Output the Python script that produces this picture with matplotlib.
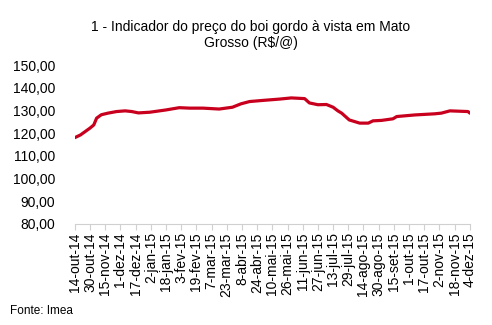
import pandas as pd
import matplotlib
matplotlib.use('Agg')
import matplotlib.pyplot as plt

plt.rcParams['font.family'] = ['Liberation Sans', 'DejaVu Sans']

# preco do boi gordo (R$/@)
datas = ['2014-10-14', '2014-10-20', '2014-10-25', '2014-10-30', '2014-11-03',
         '2014-11-06', '2014-11-11', '2014-11-18', '2014-11-27', '2014-12-06',
         '2014-12-13', '2014-12-20', '2015-01-01', '2015-01-18', '2015-02-01',
         '2015-02-12', '2015-02-26', '2015-03-15', '2015-03-29', '2015-04-07',
         '2015-04-16', '2015-04-30', '2015-05-18', '2015-05-30', '2015-06-13',
         '2015-06-18', '2015-06-27', '2015-07-06', '2015-07-13', '2015-07-18',
         '2015-07-22', '2015-07-30', '2015-08-10', '2015-08-19', '2015-08-24',
         '2015-09-02', '2015-09-14', '2015-09-18', '2015-10-07', '2015-10-28',
         '2015-11-04', '2015-11-13', '2015-12-02', '2015-12-04']
precos = [118.0, 119.2, 120.7, 122.2, 123.6, 126.6, 128.1, 128.8, 129.5, 129.8,
          129.5, 128.9, 129.2, 130.2, 131.2, 131.0, 131.0, 130.6, 131.4, 132.9,
          133.9, 134.4, 135.0, 135.5, 135.2, 133.3, 132.5, 132.6, 131.4, 129.8,
          128.8, 125.8, 124.4, 124.4, 125.4, 125.6, 126.3, 127.3, 128.0, 128.5,
          128.8, 129.8, 129.5, 128.8]

rotulos = ['14-out-14', '30-out-14', '15-nov-14', '1-dez-14', '17-dez-14',
           '2-jan-15', '18-jan-15', '3-fev-15', '19-fev-15', '7-mar-15',
           '23-mar-15', '8-abr-15', '24-abr-15', '10-mai-15', '26-mai-15',
           '11-jun-15', '27-jun-15', '13-jul-15', '29-jul-15', '14-ago-15',
           '30-ago-15', '15-set-15', '1-out-15', '17-out-15', '2-nov-15',
           '18-nov-15', '4-dez-15']
y_ticks = [80, 90, 100, 110, 120, 130, 140, 150]

x = pd.to_datetime(datas)
ticks = pd.date_range('2014-10-14', periods=len(rotulos), freq='16D')

fig = plt.figure(figsize=(4.92, 3.25), dpi=100)
ax = fig.add_axes([0.152, 0.311, 0.803, 0.489])
ax.plot(x, precos, color='#C8001E', lw=2.3, solid_capstyle='round')

ax.set_xlim(ticks[0], ticks[-1])
ax.set_ylim(80, 150)
ax.set_xticks(ticks)
ax.set_xticklabels(rotulos, rotation=90, fontsize=10)
ax.set_yticks(y_ticks)
ax.set_yticklabels([f'{v:.2f}'.replace('.', ',') for v in y_ticks], fontsize=10)

for s in ['top', 'right', 'left']:
    ax.spines[s].set_visible(False)
ax.spines['bottom'].set_color('#D0D0D0')
ax.tick_params(axis='x', length=4, color='#D0D0D0', pad=2)
ax.tick_params(axis='y', length=0, pad=14)

fig.text(0.51, 0.893, '1 - Indicador do preço do boi gordo à vista em Mato\nGrosso (R$/@)',
         ha='center', va='center', fontsize=10, linespacing=1.2)
fig.text(0.02, 0.042, 'Fonte: Imea', fontsize=8.5, va='center')

fig.savefig('out.png', dpi=100)
